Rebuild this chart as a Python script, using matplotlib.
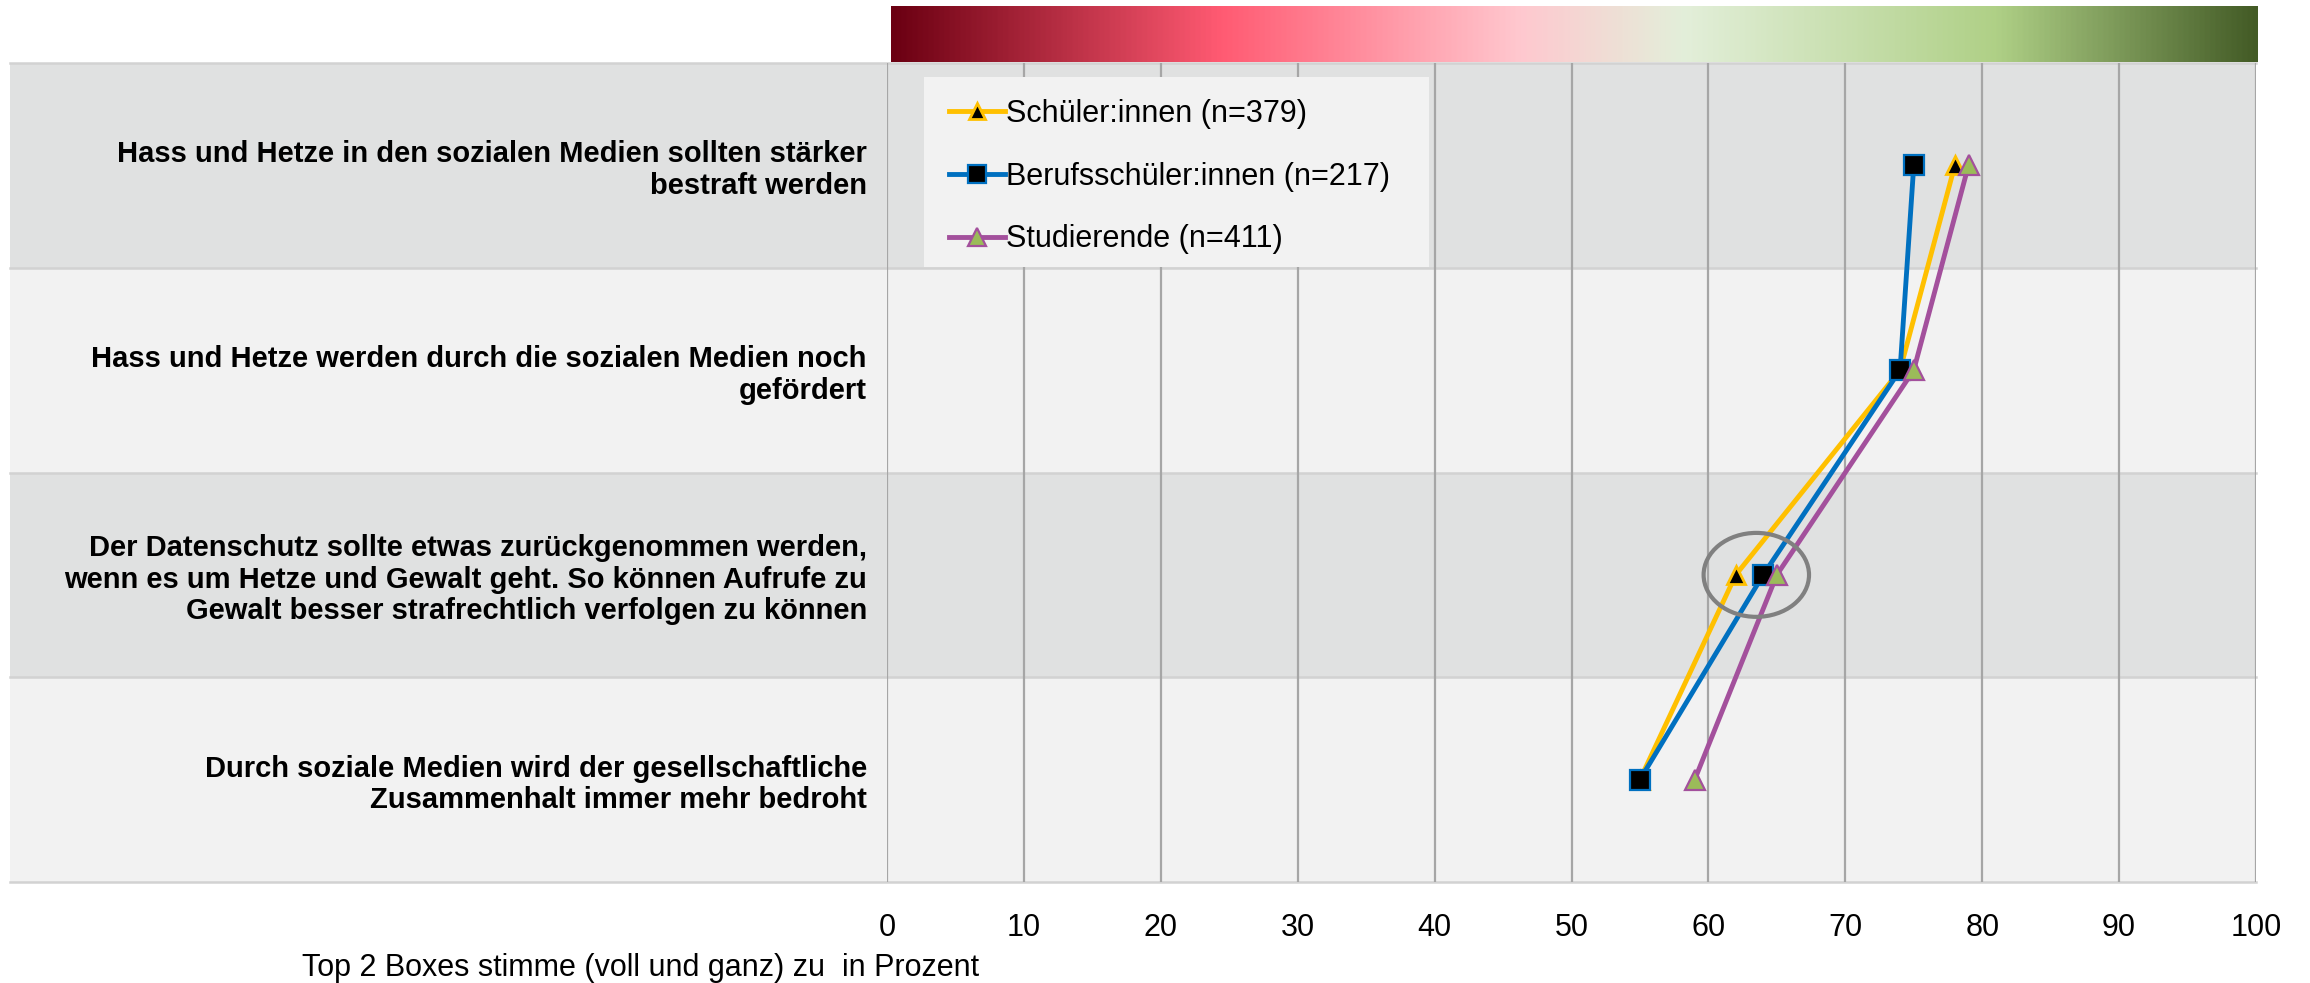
import matplotlib
matplotlib.use("Agg")
import matplotlib.pyplot as plt
import numpy as np
from matplotlib.patches import Rectangle, Ellipse
from matplotlib.colors import LinearSegmentedColormap
from matplotlib.transforms import blended_transform_factory

plt.rcParams['font.family'] = ['Liberation Sans', 'DejaVu Sans']

categories = [
    "Hass und Hetze in den sozialen Medien sollten stärker\nbestraft werden",
    "Hass und Hetze werden durch die sozialen Medien noch\ngefördert",
    "Der Datenschutz sollte etwas zurückgenommen werden,\nwenn es um Hetze und Gewalt geht. So können Aufrufe zu\nGewalt besser strafrechtlich verfolgen zu können",
    "Durch soziale Medien wird der gesellschaftliche\nZusammenhalt immer mehr bedroht",
]
schueler = [78, 74, 62, 55]
beruf = [75, 74, 64, 55]
stud = [79, 75, 65, 59]
series_labels = ["Schüler:innen (n=379)", "Berufsschüler:innen (n=217)", "Studierende (n=411)"]
xticks = [0, 10, 20, 30, 40, 50, 60, 70, 80, 90, 100]
xlabel = "Top 2 Boxes stimme (voll und ganz) zu  in Prozent"

W, H = 2310, 983
fig = plt.figure(figsize=(W / 100, H / 100), dpi=100)

# main axes
x0, x1 = 887, 2256
y0, y1 = 63, 882
ax = fig.add_axes([x0 / W, 1 - y1 / H, (x1 - x0) / W, (y1 - y0) / H])
ax.set_facecolor('none')
ax.set_xlim(0, 100)
ax.set_ylim(len(categories) - 0.5, -0.5)

# bands across label area
blend = blended_transform_factory(fig.transFigure, ax.transData)
band_colors = ['#e0e1e1', '#f2f2f2']
for i in range(len(categories)):
    ax.add_patch(Rectangle((10 / W, i - 0.5), (x1 - 10) / W, 1.0, transform=blend,
                           facecolor=band_colors[i % 2], edgecolor='none',
                           clip_on=False, zorder=0))
for i in range(len(categories) + 1):
    ax.plot([10 / W, x1 / W], [i - 0.5, i - 0.5], transform=blend, color='#d2d2d2',
            lw=1.8, clip_on=False, zorder=0.5)

for xv in xticks:
    ax.axvline(xv, color='#a6a6a6', lw=1.6, zorder=1)

ypos = np.arange(len(categories))
ax.plot(schueler, ypos, color='#ffc000', lw=3.5, marker='^', markersize=13,
        markerfacecolor='black', markeredgecolor='#ffc000', markeredgewidth=2,
        label=series_labels[0], zorder=3)
ax.plot(beruf, ypos, color='#0070c0', lw=3.5, marker='s', markersize=14.5,
        markerfacecolor='black', markeredgecolor='#0070c0', markeredgewidth=1.6,
        label=series_labels[1], zorder=4)
ax.plot(stud, ypos, color='#a3509c', lw=3.5, marker='^', markersize=15,
        markerfacecolor='#9bbb59', markeredgecolor='#a3509c', markeredgewidth=1.6,
        label=series_labels[2], zorder=5)

# highlight ellipse
ax.add_patch(Ellipse((63.5, 2.0), 7.7, 0.41, facecolor='none', edgecolor='#808080',
                     lw=3, zorder=6))

ax.set_xticks(xticks)
ax.set_xticklabels([str(v) for v in xticks], fontsize=22)
ax.set_yticks(ypos)
ax.set_yticklabels(categories, fontsize=21, fontweight='bold', linespacing=1.17)
ax.tick_params(axis='x', length=0, pad=22)
ax.tick_params(axis='y', length=0, pad=14.5)
for s in ax.spines.values():
    s.set_visible(False)

# legend background box
ax.add_patch(Rectangle((924 / W, 1 - 267 / H), (1429 - 924) / W, (267 - 77) / H,
                       transform=fig.transFigure, facecolor='#f2f2f2',
                       edgecolor='none', clip_on=False, zorder=6.5))
leg = ax.legend(loc='upper left', bbox_to_anchor=(949 / W, 1 - 99 / H),
                bbox_transform=fig.transFigure, fontsize=22, frameon=False,
                handlelength=1.83, handletextpad=0.05, labelspacing=1.07,
                borderpad=0, borderaxespad=0, markerscale=0.85)
leg.set_zorder(7)

fig.text(302 / W, 1 - 968 / H, xlabel, fontsize=22, ha='left', va='center')

# gradient bar
gax = fig.add_axes([891 / W, 1 - 62 / H, (2257 - 891) / W, (62 - 6) / H])
cmap = LinearSegmentedColormap.from_list('grad', [
    (0.0, '#6b0012'), (0.24, '#ff5a72'), (0.46, '#ffc8cf'),
    (0.58, '#e3efda'), (0.81, '#afd086'), (1.0, '#435b26')])
gax.imshow(np.linspace(0, 1, 512)[None, :], aspect='auto', cmap=cmap)
gax.set_axis_off()

fig.savefig('out.png', dpi=100)
